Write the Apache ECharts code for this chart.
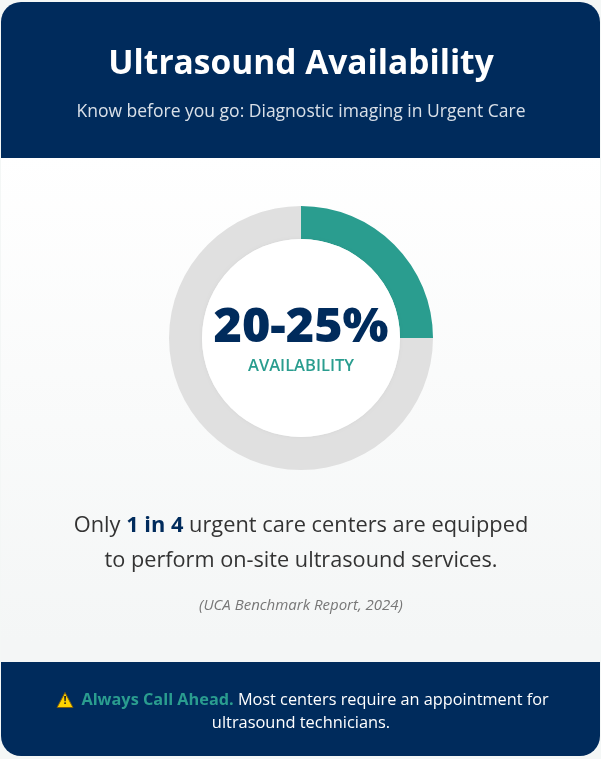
<!DOCTYPE html>
<html><head><meta charset="utf-8">
<style>html,body{margin:0;padding:0;background:#f4f7f6}#c{width:601px;height:759px}</style>
<script src="https://cdn.jsdelivr.net/npm/echarts@6/dist/echarts.min.js"></script>
</head><body><div id="c"></div>
<script>
const segmentNames = ['Equipped', 'Not equipped'];
const segmentValues = [25, 75];
const segmentColors = ['#2a9d8f', '#e0e0e0'];
const titleText = 'Ultrasound Availability';
const subtitleText = 'Know before you go: Diagnostic imaging in Urgent Care';
const centerValue = '20-25%';
const centerLabel = 'AVAILABILITY';
const F = '"Open Sans", "Noto Sans", sans-serif';
const navy = '#002b5c', teal = '#2a9d8f';

const chart = echarts.init(document.getElementById('c'), null, {renderer: 'canvas', width: 601, height: 759});
const t = (x, y, text, font, fill, extra) => ({type: 'text', x, y, z: 20, silent: true,
  style: Object.assign({text, font: font + ' ' + F, fill, align: 'center', verticalAlign: 'middle'}, extra || {})});
chart.setOption({
  animation: false,
  backgroundColor: '#f4f7f6',
  series: [{
    type: 'pie', z: 5, center: [301, 338], radius: [99, 132], startAngle: 90, clockwise: true,
    silent: true, label: {show: false}, labelLine: {show: false},
    data: segmentNames.map((name, i) => ({name, value: segmentValues[i], itemStyle: {color: segmentColors[i]}}))
  }],
  graphic: [
    {type: 'rect', z: 0, silent: true, shape: {x: 1, y: 2, width: 599, height: 754, r: 20},
      style: {fill: new echarts.graphic.LinearGradient(0, 0, 0, 1, [{offset: 0, color: '#ffffff'}, {offset: 0.2, color: '#ffffff'}, {offset: 0.85, color: '#f4f6f6'}, {offset: 1, color: '#f4f6f6'}])}},
    {type: 'rect', z: 1, silent: true, shape: {x: 1, y: 2, width: 599, height: 156, r: [20, 20, 0, 0]}, style: {fill: navy}},
    {type: 'rect', z: 1, silent: true, shape: {x: 1, y: 662, width: 599, height: 94, r: [0, 0, 20, 20]}, style: {fill: navy}},
    {type: 'circle', z: 10, silent: true, shape: {cx: 301, cy: 338, r: 99},
      style: {fill: '#ffffff', shadowBlur: 3, shadowColor: 'rgba(0,0,0,0.05)'}},
    t(301, 64, titleText, '700 33.5px', '#ffffff'),
    t(301, 112, subtitleText, '400 17.5px', '#d9e0e8'),
    t(301, 328, centerValue, '800 48.5px', navy),
    t(301, 366, centerLabel, '600 16.5px', teal),
    {type: 'text', x: 301, y: 526, z: 20, silent: true, style: {
      text: '{a|Only }{b|1 in 4}{a| urgent care centers are equipped}', align: 'center', verticalAlign: 'middle',
      rich: {a: {font: '400 21.8px ' + F, fill: '#333333'}, b: {font: '700 21.8px ' + F, fill: navy}}}},
    t(301, 561, 'to perform on-site ultrasound services.', '400 21.7px', '#333333'),
    t(301, 606, '(UCA Benchmark Report, 2024)', 'italic 400 15px', '#777777'),
    {type: 'polygon', z: 20, silent: true, shape: {points: [[65, 692.5], [57, 707.5], [73, 707.5]]},
      style: {fill: '#ffd400', stroke: '#7a5c10', lineWidth: 1}},
    t(65, 701, '!', '700 11px', '#222222'),
    {type: 'text', x: 315, y: 700, z: 20, silent: true, style: {
      text: '{a|Always Call Ahead.}{b| Most centers require an appointment for}', align: 'center', verticalAlign: 'middle',
      rich: {a: {font: '700 16.3px ' + F, fill: teal}, b: {font: '400 16.3px ' + F, fill: '#ffffff'}}}},
    t(301, 723, 'ultrasound technicians.', '400 16.4px', '#ffffff')
  ]
});
</script></body></html>
